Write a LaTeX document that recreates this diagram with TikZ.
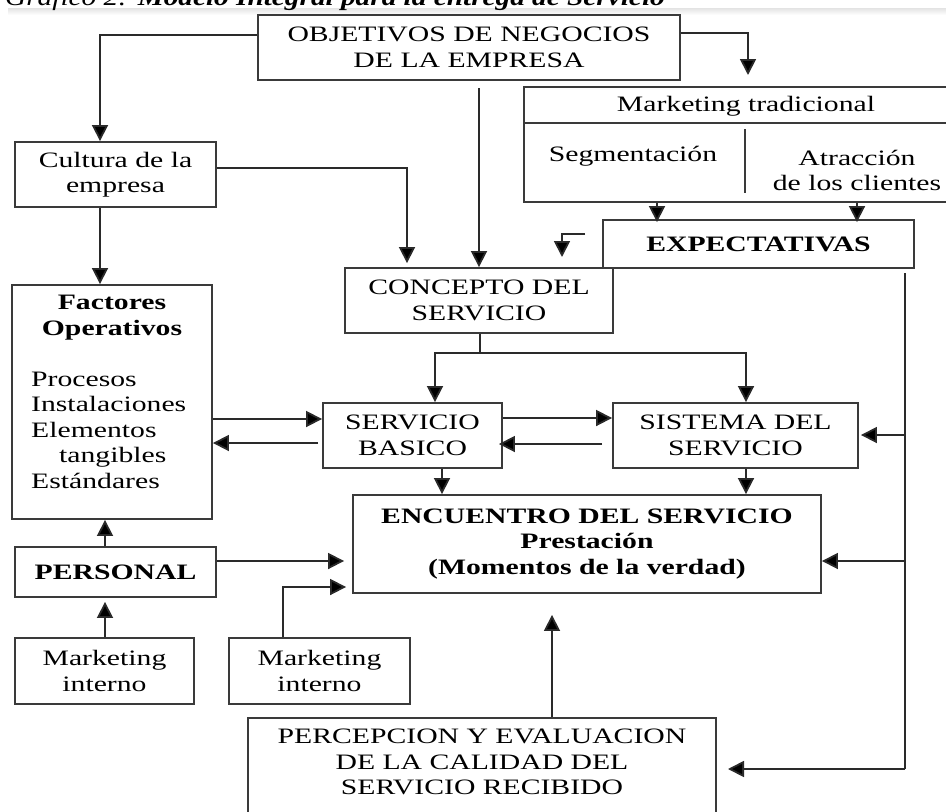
\documentclass[tikz,border=0pt]{standalone}
\usepackage{fontspec}
\setmainfont{Liberation Serif}[FakeStretch=1.35]
\newfontfamily\capfont{Liberation Serif}[FakeStretch=1.22]
\usetikzlibrary{arrows.meta}
\definecolor{linec}{HTML}{2A2A2A}
\definecolor{boxc}{HTML}{3A3A3A}
\newcommand{\diagfont}{\fontsize{22}{25.5}\selectfont}
\begin{document}
\begin{tikzpicture}[x=1pt,y=-1pt,
  box/.style={draw=boxc, line width=1.9pt, inner sep=0pt, align=center, font=\diagfont},
  txt/.style={inner sep=0pt, align=center, font=\diagfont},
  ln/.style={draw=linec, line width=1.8pt},
  arr/.style={draw=linec, line width=1.8pt, -{Triangle[length=16pt,width=16pt,fill=black]}}]
\useasboundingbox (0,0) rectangle (946,812);
\clip (0,0) rectangle (946,812);
\fill[white] (0,0) rectangle (946,812);
% caption (cut off at the top)
\shade[top color=gray!22, bottom color=white] (8,8) rectangle (946,15);
\node[anchor=base west, inner sep=0pt] (cap) at (5,5) {\fontsize{24}{28}\selectfont\capfont\itshape Gráfico 2: \bfseries Modelo Integral para la entrega de Servicio};
% boxes
\node[box, minimum width=422, minimum height=65] (obj) at (469,47.5) {OBJETIVOS DE NEGOCIOS\\DE LA EMPRESA};
\node[box, minimum width=424, minimum height=115] (mkt) at (736,144.5) {};
\node[txt] (mktt) at (746,106) {Marketing tradicional};
\node[txt] (seg) at (633,156) {Segmentación};
\node[txt] (atr) at (857,170.5) {Atracción\\de los clientes};
\node[box, minimum width=311, minimum height=48] (expect) at (758.5,244) {\bfseries EXPECTATIVAS};
\node[box, minimum width=201, minimum height=65] (cult) at (115.5,174.5) {Cultura de la\\empresa};
\node[box, minimum width=268, minimum height=65] (conc) at (479,300.5) {CONCEPTO DEL\\SERVICIO};
\node[box, minimum width=200, minimum height=234] (fact) at (112,402) {};
\node[txt, font=\diagfont\bfseries] (factt) at (112,317.5) {Factores\\Operativos};
\node[txt, align=left, anchor=west] (factl) at (31,430) {Procesos\\Instalaciones\\Elementos\\\hspace*{28pt}tangibles\\Estándares};
\node[box, minimum width=179, minimum height=65] (bas) at (412.5,435.5) {SERVICIO\\BASICO};
\node[box, minimum width=245, minimum height=65] (sis) at (735.5,435.5) {SISTEMA DEL\\SERVICIO};
\node[box, minimum width=468, minimum height=98, font=\diagfont\bfseries] (enc) at (587,544) {ENCUENTRO DEL SERVICIO\\Prestación\\(Momentos de la verdad)};
\node[box, minimum width=201, minimum height=50, font=\diagfont\bfseries] (pers) at (115.5,572) {PERSONAL};
\node[box, minimum width=179, minimum height=66] (mi1) at (104.5,671) {Marketing\\interno};
\node[box, minimum width=181, minimum height=66] (mi2) at (319.5,671) {Marketing\\interno};
\node[box, minimum width=468, minimum height=122] (perc) at (482,779) {};
\node[txt] (perct) at (482,762) {PERCEPCION Y EVALUACION\\DE LA CALIDAD DEL\\SERVICIO RECIBIDO};
% inner lines of the marketing box
\draw[ln, draw=boxc] (mkt.west |- 0,123) -- (mkt.east |- 0,123);
\draw[ln, draw=boxc] (745,129) -- (745,193);
% free ends
\coordinate (objend) at (748,75);
\coordinate (objgap) at (479,88);
\coordinate (la) at (585,234);
\coordinate (lb) at (562,257);
\coordinate (split) at (480,353);
\coordinate (rtop) at (905,273);
\coordinate (rbot) at (905,769);
\coordinate (perctip) at (728,769);
\coordinate (basret) at (318,443);
\coordinate (sisret) at (602,444);
% connectors
\draw[arr] (obj.west |- 0,35) -| (cult.north -| 100,0);
\draw[arr] (obj.east |- 0,33) -| (objend);
\draw[arr] (objgap) -- (conc.north -| objgap);
\draw[arr] (cult.east |- 0,168) -| ([yshift=4pt]conc.north -| 407,0);
\draw[arr] (cult.south -| 100,0) -- (fact.north -| 100,0);
\draw[arr] (mkt.south -| 657,0) -- ([yshift=-3pt]expect.north -| 657,0);
\draw[arr] (mkt.south -| 857,0) -- ([yshift=-3pt]expect.north -| 857,0);
\draw[arr] (la) -| (lb);
\draw[ln] (conc.south -| split) -- (split);
\draw[arr] (split) -| (bas.north -| 435,0);
\draw[arr] (split) -| (sis.north -| 746,0);
\draw[arr] (fact.east |- 0,419) -- (bas.west |- 0,419);
\draw[arr] (basret) -- (fact.east |- basret);
\draw[arr] (bas.east |- 0,418) -- (sis.west |- 0,418);
\draw[arr] (sisret) -- ([xshift=-4pt]bas.east |- sisret);
\draw[arr] (bas.south -| 442,0) -- (enc.north -| 442,0);
\draw[arr] (sis.south -| 746,0) -- (enc.north -| 746,0);
\draw[ln] (rtop) -- (rbot);
\draw[arr] (rtop |- 0,435) -- ([xshift=2pt]sis.east |- 0,435);
\draw[arr] (rtop |- 0,561) -- (enc.east |- 0,561);
\draw[arr] (rbot) -- (perctip);
\draw[arr] (pers.north -| 105,0) -- (fact.south -| 105,0);
\draw[arr, shorten >=4pt] (mi1.north -| 105,0) -- (pers.south -| 105,0);
\draw[arr, shorten >=8pt] (pers.east |- 0,561) -- (enc.west |- 0,561);
\draw[arr, shorten >=6pt] (mi2.north -| 283,0) |- (enc.west |- 0,587);
\draw[arr, shorten >=21pt] (perc.north -| 552,0) -- (enc.south -| 552,0);
\end{tikzpicture}
\end{document}
